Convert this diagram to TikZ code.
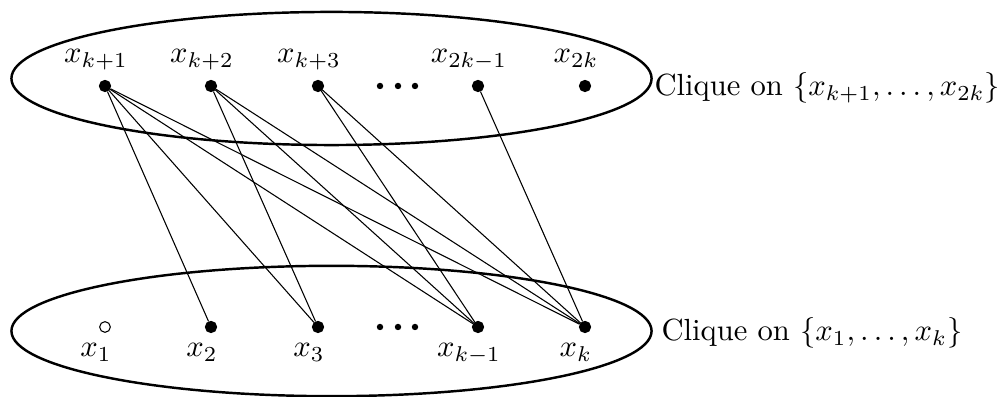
\documentclass[tikz,border=0pt]{standalone}
\usetikzlibrary{shapes.geometric}
\begin{document}
\begin{tikzpicture}[x=0.3268pt, y=-0.3268pt,
  vtx/.style={circle, fill=black, draw=black, inner sep=0pt, minimum size=3.6pt},
  ovtx/.style={circle, draw=black, fill=white, line width=0.35pt, inner sep=0pt, minimum size=3.5pt},
  smalldot/.style={circle, fill=black, inner sep=0pt, minimum size=2.1pt},
  clique/.style={ellipse, draw=black, line width=0.8pt, inner sep=0pt, minimum width=209.2pt},
  edgeln/.style={line width=0.35pt},
  lbl/.style={anchor=base, inner sep=0pt},
  captext/.style={anchor=base west, inner sep=0pt}]
\useasboundingbox (0,0) rectangle (997,397);
% clique ellipses
\node[clique, minimum height=43.5pt] (top) at (331.5,78.5) {};
\node[clique, minimum height=42.6pt] (bot) at (331.5,331) {};
% top vertices
\node[vtx] (t1) at (105,86) {};
\node[vtx] (t2) at (211,86) {};
\node[vtx] (t3) at (318,86) {};
\node[vtx] (t4) at (478,86) {};
\node[vtx] (t5) at (585,86) {};
\node[smalldot] (td1) at (380,86) {};
\node[smalldot] (td2) at (398,86) {};
\node[smalldot] (td3) at (415,86) {};
% bottom vertices
\node[ovtx] (b1) at (105,327) {};
\node[vtx] (b2) at (211,327) {};
\node[vtx] (b3) at (318,327) {};
\node[vtx] (b4) at (478,327) {};
\node[vtx] (b5) at (585,327) {};
\node[smalldot] (bd1) at (380,327) {};
\node[smalldot] (bd2) at (398,327) {};
\node[smalldot] (bd3) at (415,327) {};
% labels
\node[lbl] (lt1) at (96,63) {$x_{k+1}$};
\node[lbl] (lt2) at (202,63) {$x_{k+2}$};
\node[lbl] (lt3) at (309,63) {$x_{k+3}$};
\node[lbl] (lt4) at (469,63) {$x_{2k-1}$};
\node[lbl] (lt5) at (576,63) {$x_{2k}$};
\node[lbl] (lb1) at (96,357) {$x_1$};
\node[lbl] (lb2) at (202,357) {$x_2$};
\node[lbl] (lb3) at (309,357) {$x_3$};
\node[lbl] (lb4) at (469,357) {$x_{k-1}$};
\node[lbl] (lb5) at (576,357) {$x_k$};
% captions
\node[captext] (ctop) at (654,96) {Clique on $\{x_{k+1},\ldots,x_{2k}\}$};
\node[captext] (cbot) at (661,341) {Clique on $\{x_1,\ldots,x_k\}$};
% edges
\draw[edgeln] (t1) -- (b2);
\draw[edgeln] (t1) -- (b3);
\draw[edgeln] (t1) -- (b4);
\draw[edgeln] (t1) -- (b5);
\draw[edgeln] (t2) -- (b3);
\draw[edgeln] (t2) -- (b4);
\draw[edgeln] (t2) -- (b5);
\draw[edgeln] (t3) -- (b4);
\draw[edgeln] (t3) -- (b5);
\draw[edgeln] (t4) -- (b5);
\end{tikzpicture}
\end{document}
